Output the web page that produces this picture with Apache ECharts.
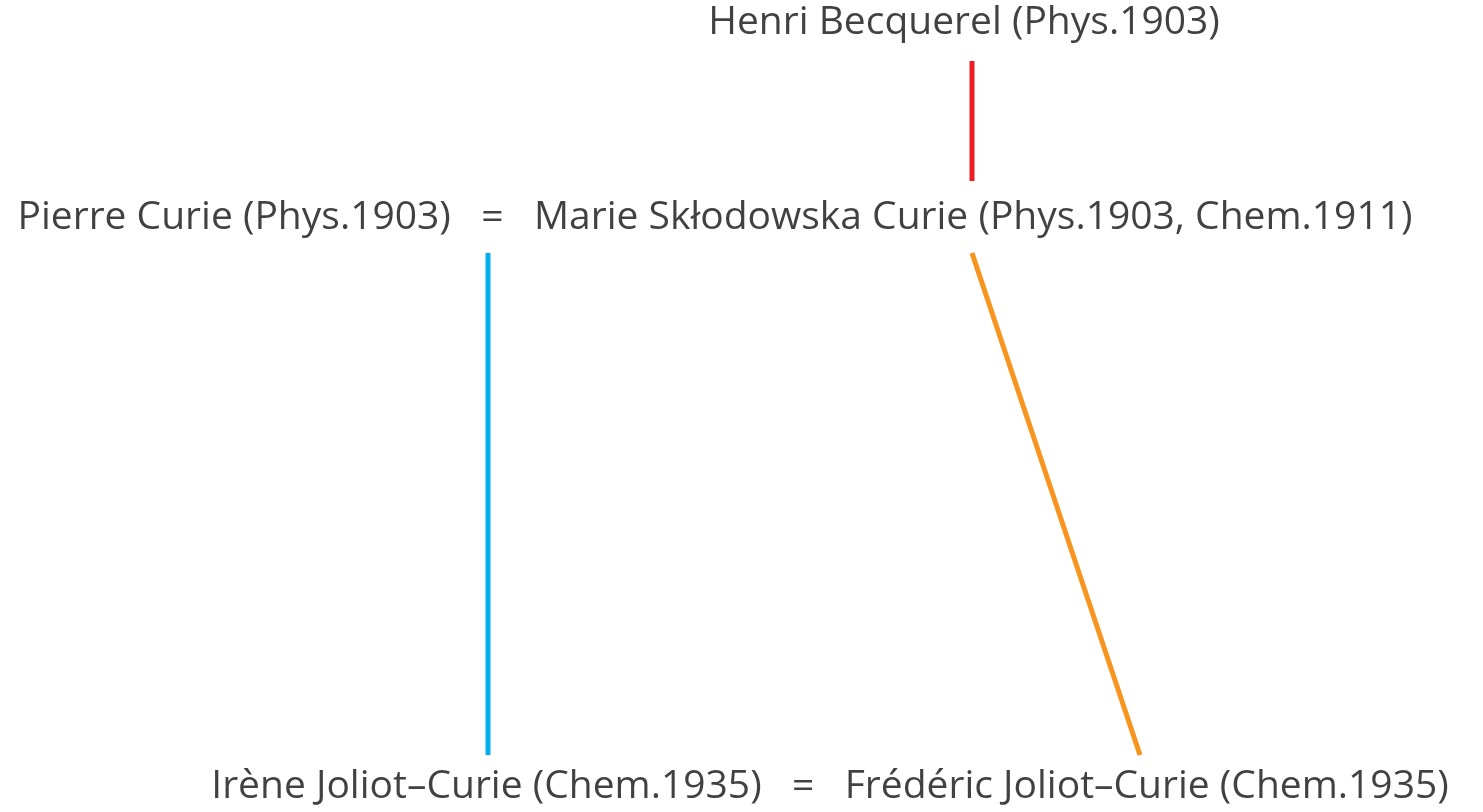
<!DOCTYPE html>
<html>
<head>
<meta charset="utf-8">
<script src="https://cdn.jsdelivr.net/npm/echarts@6/dist/echarts.min.js"></script>
<style>html,body{margin:0;padding:0;background:#fff;}#main{width:1483px;height:812px;}</style>
</head>
<body>
<div id="main"></div>
<script>
// Row labels (text of the family tree)
const rowLabels = [
  'Henri Becquerel (Phys.1903)',
  'Pierre Curie (Phys.1903)   =   Marie Skłodowska Curie (Phys.1903, Chem.1911)',
  'Irène Joliot–Curie (Chem.1935)   =   Frédéric Joliot–Curie (Chem.1935)'
];
// Row label anchor points (x, y) in the diagram's coordinate units
const rowX = [964, 715, 830];
const rowY = [23, 218, 787];
// Connector segments: from / to points
const linkNames = ['Becquerel–Marie', 'Pierre–Irène', 'Marie–Frédéric'];
const linkFrom = [[972, 61], [488, 253], [972, 253]];
const linkTo = [[972, 181], [488, 755], [1140, 755]];
const linkColors = ['#ee1d25', '#00aeef', '#f7941d'];

const chart = echarts.init(document.getElementById('main'));
const series = [];
linkNames.forEach((n, i) => {
  series.push({
    type: 'line', name: n, data: [linkFrom[i], linkTo[i]],
    symbol: 'none', silent: true,
    lineStyle: { color: linkColors[i], width: 5, cap: 'butt' }
  });
});
series.push({
  type: 'scatter', symbolSize: 0, silent: true,
  data: rowLabels.map((t, i) => ({ value: [rowX[i], rowY[i]], name: t })),
  label: {
    show: true, position: 'inside', formatter: p => p.name,
    fontFamily: 'Open Sans', fontSize: 39, color: '#111111'
  }
});
chart.setOption({
  animation: false,
  grid: { left: 0, right: 0, top: 0, bottom: 0 },
  xAxis: { type: 'value', min: 0, max: 1483, show: false },
  yAxis: { type: 'value', min: 0, max: 812, inverse: true, show: false },
  series
});
</script>
</body>
</html>
